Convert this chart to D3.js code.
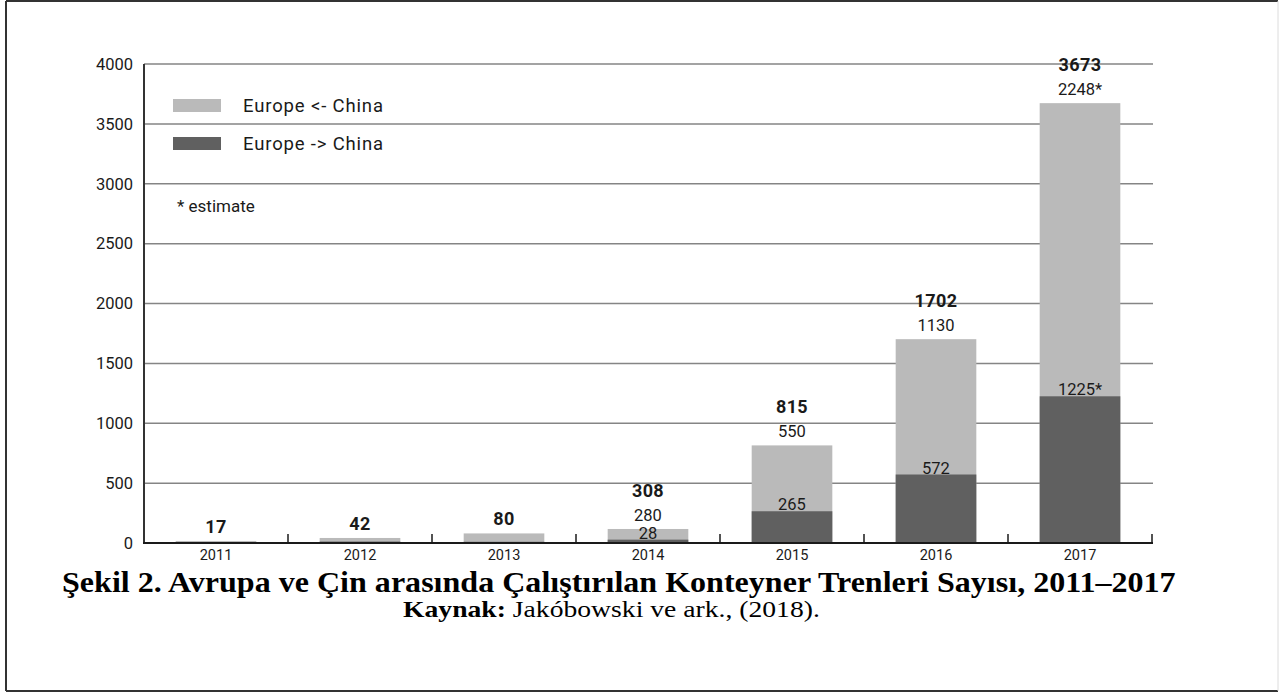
<!DOCTYPE html>
<html>
<head>
<meta charset="utf-8">
<script src="https://cdn.jsdelivr.net/npm/d3@7"></script>
<style>
  html, body { margin: 0; padding: 0; background: #fff; }
  svg { display: block; }
  .num { font-family: Roboto, "DejaVu Sans", sans-serif; fill: #1a1a1a; }
  .serif { font-family: "Liberation Serif", "Times New Roman", serif; fill: #000; }
</style>
</head>
<body>
<svg id="chart" width="1281" height="693"></svg>
<script>
(function () {
  // data
  const years = ["2011", "2012", "2013", "2014", "2015", "2016", "2017"];
  // bar heights as drawn (2014 bar is drawn much lower than its label)
  const barTotals = [17, 42, 80, 117, 815, 1702, 3673];
  const toChina = [6, 12, 10, 28, 265, 572, 1225];           // Europe -> China (dark)
  const totalLabels = ["17", "42", "80", "308", "815", "1702", "3673"];
  const fromLabels = [null, null, null, "280", "550", "1130", "2248*"];
  const toLabels = [null, null, null, "28", "265", "572", "1225*"];
  const yTicks = [0, 500, 1000, 1500, 2000, 2500, 3000, 3500, 4000];

  const legendItems = [
    { label: "Europe <- China", color: "#bababa" },
    { label: "Europe -> China", color: "#606060" }
  ];

  const svg = d3.select("#chart");

  // frame around the figure
  const frame = svg.append("g");
  frame.append("line").attr("x1", 6).attr("y1", 1).attr("x2", 1278).attr("y2", 1)
    .attr("stroke", "#333").attr("stroke-width", 2);
  frame.append("line").attr("x1", 6).attr("y1", 1).attr("x2", 6).attr("y2", 691)
    .attr("stroke", "#333").attr("stroke-width", 2);
  frame.append("line").attr("x1", 6).attr("y1", 691).attr("x2", 1278).attr("y2", 691)
    .attr("stroke", "#333").attr("stroke-width", 2);
  frame.append("line").attr("x1", 1278).attr("y1", 1).attr("x2", 1278).attr("y2", 691)
    .attr("stroke", "#dcdcdc").attr("stroke-width", 1);

  const left = 144, right = 1152, top = 64, bottom = 543;

  const x = d3.scaleBand()
    .domain(years)
    .range([left, right])
    .paddingInner(0.44)
    .paddingOuter(0.22);

  const y = d3.scaleLinear()
    .domain([0, 4000])
    .range([bottom, top]);

  const g = svg.append("g");

  // gridlines
  g.append("g").selectAll("line")
    .data(yTicks.filter(d => d > 0))
    .join("line")
    .attr("x1", left).attr("x2", right + 1)
    .attr("y1", d => y(d)).attr("y2", d => y(d))
    .attr("stroke", "#858585")
    .attr("stroke-width", 1.5);

  // y axis labels
  const yAxis = g.append("g")
    .attr("transform", `translate(${left},0)`)
    .call(d3.axisLeft(y).tickValues(yTicks).tickSize(0).tickPadding(11).tickFormat(d3.format("d")));
  yAxis.select(".domain").remove();
  yAxis.selectAll("text")
    .attr("class", "num")
    .style("font-size", "16.5px")
    .attr("fill", "#1a1a1a");

  // bars: light part first (whole bar), dark part on top
  const bars = g.append("g");
  bars.selectAll("rect.light")
    .data(years)
    .join("rect")
    .attr("class", "light")
    .attr("x", d => x(d))
    .attr("width", x.bandwidth())
    .attr("y", (d, i) => y(barTotals[i]))
    .attr("height", (d, i) => y(0) - y(barTotals[i]))
    .attr("fill", legendItems[0].color);

  bars.selectAll("rect.dark")
    .data(years)
    .join("rect")
    .attr("class", "dark")
    .attr("x", d => x(d))
    .attr("width", x.bandwidth())
    .attr("y", (d, i) => y(toChina[i]))
    .attr("height", (d, i) => y(0) - y(toChina[i]))
    .attr("fill", legendItems[1].color);

  // axis lines
  g.append("line")
    .attr("x1", left).attr("x2", left)
    .attr("y1", top).attr("y2", bottom)
    .attr("stroke", "#333").attr("stroke-width", 2);
  g.append("line")
    .attr("x1", left - 1).attr("x2", right + 1)
    .attr("y1", bottom).attr("y2", bottom)
    .attr("stroke", "#1a1a1a").attr("stroke-width", 2);

  // small ticks between categories
  const gap = x.step() * x.paddingOuter();
  g.append("g").selectAll("line")
    .data(years)
    .join("line")
    .attr("x1", d => x(d) + x.bandwidth() + gap)
    .attr("x2", d => x(d) + x.bandwidth() + gap)
    .attr("y1", bottom).attr("y2", bottom - 9)
    .attr("stroke", "#1a1a1a").attr("stroke-width", 1.5);

  // x labels
  g.append("g").selectAll("text")
    .data(years)
    .join("text")
    .attr("class", "num")
    .attr("x", d => x(d) + x.bandwidth() / 2)
    .attr("y", bottom + 17)
    .attr("text-anchor", "middle")
    .style("font-size", "14.5px")
    .text(d => d);

  // value labels
  const labels = g.append("g").attr("text-anchor", "middle");
  labels.selectAll("text.total")
    .data(years)
    .join("text")
    .attr("class", "num total")
    .attr("x", d => x(d) + x.bandwidth() / 2)
    .attr("y", (d, i) => fromLabels[i] ? y(barTotals[i]) - 32 : y(barTotals[i]) - 8)
    .style("font-size", "18px")
    .style("font-weight", "bold")
    .style("letter-spacing", "0.4px")
    .text((d, i) => totalLabels[i]);

  labels.selectAll("text.from")
    .data(years.filter((d, i) => fromLabels[i]))
    .join("text")
    .attr("class", "num from")
    .attr("x", d => x(d) + x.bandwidth() / 2)
    .attr("y", d => y(barTotals[years.indexOf(d)]) - 8)
    .style("font-size", "16.5px")
    .text(d => fromLabels[years.indexOf(d)]);

  labels.selectAll("text.to")
    .data(years.filter((d, i) => toLabels[i]))
    .join("text")
    .attr("class", "num to")
    .attr("x", d => x(d) + x.bandwidth() / 2)
    .attr("y", d => y(toChina[years.indexOf(d)]) - 1)
    .style("font-size", "16.5px")
    .text(d => toLabels[years.indexOf(d)]);

  // legend
  const legend = g.append("g");
  legendItems.forEach((item, i) => {
    const ly = 99 + i * 38;
    legend.append("rect")
      .attr("x", 173).attr("y", ly)
      .attr("width", 48).attr("height", 13)
      .attr("fill", item.color);
    legend.append("text")
      .attr("class", "num")
      .attr("x", 243).attr("y", ly + 13)
      .style("font-size", "18.5px")
      .attr("textLength", 140)
      .attr("lengthAdjust", "spacing")
      .text(item.label);
  });
  legend.append("text")
    .attr("class", "num")
    .attr("x", 177).attr("y", 212)
    .style("font-size", "17px")
    .text("* estimate");

  // fit a text element to a target width by scaling horizontally
  function fitWidth(sel, x0, width) {
    const w = sel.node().getComputedTextLength();
    const sx = width / w;
    sel.attr("transform", `translate(${x0},0) scale(${sx},1)`);
  }

  const title = svg.append("text")
    .attr("class", "serif")
    .attr("x", 0).attr("y", 592)
    .style("font-size", "30.5px")
    .style("font-weight", "bold")
    .text("Şekil 2. Avrupa ve Çin arasında Çalıştırılan Konteyner Trenleri Sayısı, 2011–2017");
  fitWidth(title, 62, 1114);

  const source = svg.append("text")
    .attr("class", "serif")
    .attr("x", 0).attr("y", 617)
    .style("font-size", "23px");
  source.append("tspan").style("font-weight", "bold").text("Kaynak:");
  source.append("tspan").text(" Jakóbowski ve ark., (2018).");
  fitWidth(source, 403, 417);
})();
</script>
</body>
</html>
